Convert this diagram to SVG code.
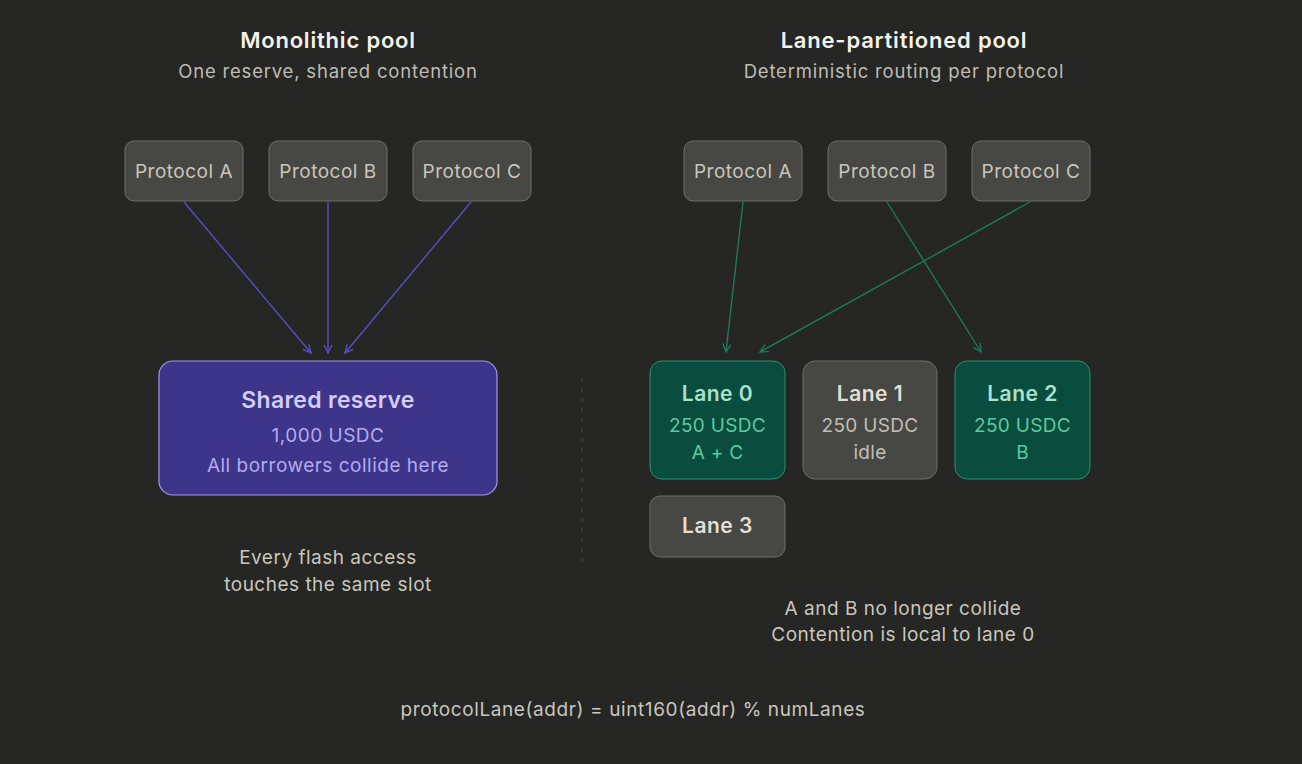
<svg xmlns="http://www.w3.org/2000/svg" width="1302" height="764" viewBox="0 0 1302 764">
<defs>
<style>
text{font-family:Inter,"Noto Sans",sans-serif;text-anchor:middle}
.title{font-size:22px;font-weight:600;fill:#f4f2ec;letter-spacing:0.8px}
.sub{font-size:18.5px;fill:#bfbcb3;letter-spacing:0.8px}
.proto rect{fill:#474743;stroke:#6f6e68;stroke-width:1}
.proto text{font-size:19px;fill:#c9c6bd;letter-spacing:0.5px}
.note{font-size:19px;fill:#c9c6bd;letter-spacing:0.5px}
.formula{letter-spacing:0.6px}
.gl rect{fill:#0a4d3f;stroke:#2f8f70;stroke-width:1}
.gl .h{font-size:21px;font-weight:600;fill:#a9e2c9;letter-spacing:0.5px}
.gl .t{font-size:19px;fill:#5ccaa0;letter-spacing:0.3px}
.nl rect{fill:#474743;stroke:#6f6e68;stroke-width:1}
.nl .h{font-size:21px;font-weight:600;fill:#e2dfd7;letter-spacing:0.5px}
.nl .t{font-size:19px;fill:#c2bfb6;letter-spacing:0.3px}
.pa{stroke:#5a4ec6;stroke-width:1.4;fill:none}
.ga{stroke:#1d7a5f;stroke-width:1.4;fill:none}
</style>
<marker id="ap" viewBox="0 0 10 10" refX="9" refY="5" markerWidth="10" markerHeight="10" markerUnits="userSpaceOnUse" orient="auto"><path d="M1,1 L9,5 L1,9" fill="none" stroke="#5a4ec6" stroke-width="1.4"/></marker>
<marker id="ag" viewBox="0 0 10 10" refX="9" refY="5" markerWidth="10" markerHeight="10" markerUnits="userSpaceOnUse" orient="auto"><path d="M1,1 L9,5 L1,9" fill="none" stroke="#1d7a5f" stroke-width="1.4"/></marker>
</defs>
<rect width="1302" height="764" fill="#262624"/>

<g id="headings">
<text class="title" x="328" y="48">Monolithic pool</text>
<text class="sub" x="328" y="78">One reserve, shared contention</text>
<text class="title" x="904" y="48">Lane-partitioned pool</text>
<text class="sub" x="904" y="78">Deterministic routing per protocol</text>
</g>

<g id="connectors">
<line class="pa" x1="184" y1="202" x2="311" y2="353" marker-end="url(#ap)"/>
<line class="pa" x1="328" y1="202" x2="328" y2="353" marker-end="url(#ap)"/>
<line class="pa" x1="471" y1="202" x2="345" y2="353" marker-end="url(#ap)"/>
<line class="ga" x1="743" y1="202" x2="726" y2="352" marker-end="url(#ag)"/>
<line class="ga" x1="1030" y1="202" x2="760" y2="352" marker-end="url(#ag)"/>
<line class="ga" x1="887" y1="202" x2="981" y2="352" marker-end="url(#ag)"/>
</g>

<g id="left-protocol-a" class="proto"><rect x="125" y="141" width="118" height="60" rx="9"/><text x="184" y="178">Protocol A</text></g>
<g id="left-protocol-b" class="proto"><rect x="269" y="141" width="118" height="60" rx="9"/><text x="328" y="178">Protocol B</text></g>
<g id="left-protocol-c" class="proto"><rect x="413" y="141" width="118" height="60" rx="9"/><text x="472" y="178">Protocol C</text></g>

<g id="shared-reserve">
<rect x="159" y="361" width="338" height="134" rx="14" fill="#3d3589" stroke="#a197e6" stroke-width="1.2"/>
<text x="328" y="408" style="font-size:23px;font-weight:600;fill:#d3cdf7;letter-spacing:0.3px">Shared reserve</text>
<text x="328" y="442" style="font-size:19px;fill:#b3aaf0;letter-spacing:0.5px">1,000 USDC</text>
<text x="328" y="472" style="font-size:19px;fill:#b3aaf0;letter-spacing:0.5px">All borrowers collide here</text>
</g>

<g id="left-note">
<text class="note" x="328" y="564">Every flash access</text>
<text class="note" x="328" y="591">touches the same slot</text>
</g>

<line id="divider" x1="582" y1="378" x2="582" y2="564" stroke="#48473f" stroke-width="1" stroke-dasharray="4 6"/>

<g id="right-protocol-a" class="proto"><rect x="684" y="141" width="118" height="60" rx="9"/><text x="743" y="178">Protocol A</text></g>
<g id="right-protocol-b" class="proto"><rect x="828" y="141" width="118" height="60" rx="9"/><text x="887" y="178">Protocol B</text></g>
<g id="right-protocol-c" class="proto"><rect x="972" y="141" width="118" height="60" rx="9"/><text x="1031" y="178">Protocol C</text></g>

<g id="lane-0" class="gl"><rect x="650" y="361" width="135" height="118" rx="12"/><text class="h" x="717.5" y="401">Lane 0</text><text class="t" x="717.5" y="432">250 USDC</text><text class="t" x="717.5" y="459">A + C</text></g>
<g id="lane-1" class="nl"><rect x="803" y="361" width="134" height="118" rx="12"/><text class="h" x="870" y="401">Lane 1</text><text class="t" x="870" y="432">250 USDC</text><text class="t" x="870" y="459">idle</text></g>
<g id="lane-2" class="gl"><rect x="955" y="361" width="135" height="118" rx="12"/><text class="h" x="1022.5" y="401">Lane 2</text><text class="t" x="1022.5" y="432">250 USDC</text><text class="t" x="1022.5" y="459">B</text></g>
<g id="lane-3" class="nl"><rect x="650" y="496" width="135" height="61" rx="10"/><text class="h" x="717.5" y="533">Lane 3</text></g>

<g id="right-note">
<text class="note" x="903" y="615">A and B no longer collide</text>
<text class="note" x="903" y="641">Contention is local to lane 0</text>
</g>

<g id="formula"><text class="note formula" x="633" y="716">protocolLane(addr) = uint160(addr) % numLanes</text></g>
</svg>
